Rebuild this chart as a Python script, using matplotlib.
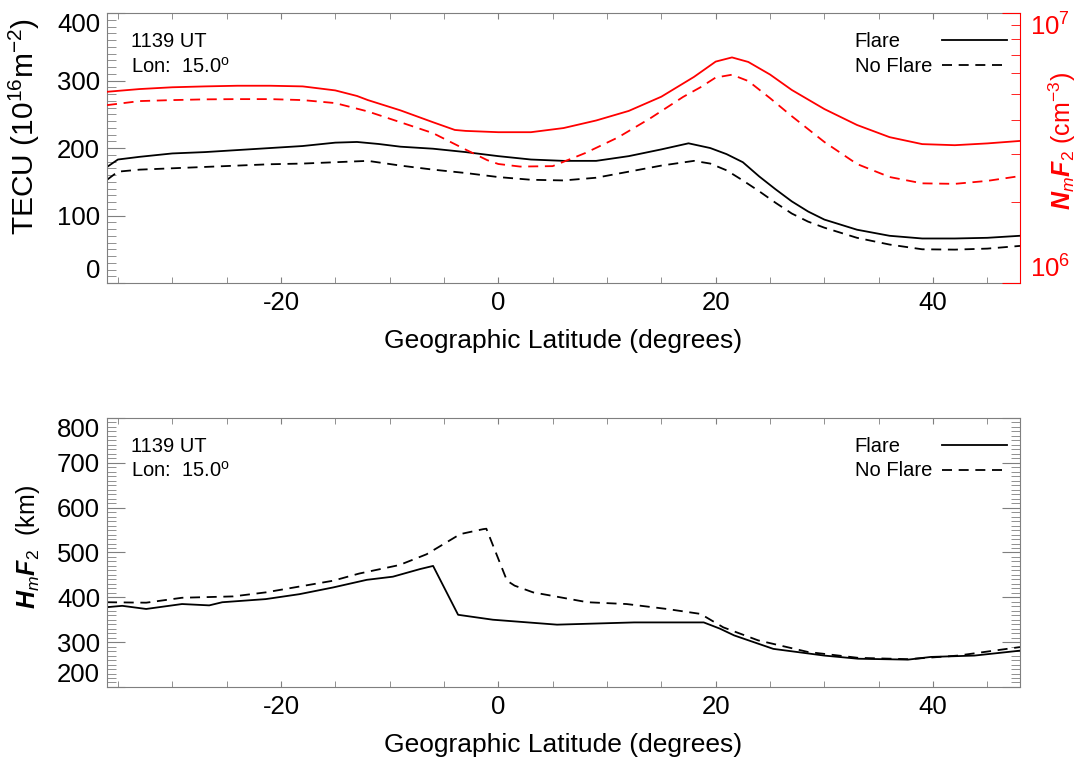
# Flare vs no-flare TEC / NmF2 / HmF2 along 15 deg longitude at 1139 UT

import matplotlib
matplotlib.use("Agg")
import matplotlib.pyplot as plt
import matplotlib.ticker as mtick
from matplotlib.lines import Line2D

plt.rcParams["font.family"] = ["Liberation Sans", "DejaVu Sans"]
plt.rcParams["mathtext.fontset"] = "custom"
plt.rcParams["mathtext.rm"] = "Liberation Sans"
plt.rcParams["mathtext.it"] = "Liberation Sans:italic"
plt.rcParams["mathtext.bf"] = "Liberation Sans:bold"
plt.rcParams["mathtext.bfit"] = "Liberation Sans:bold:italic"
plt.rcParams["lines.scale_dashes"] = False
plt.rcParams["axes.unicode_minus"] = False

# ---- data ----
# TEC (TECU)
tec_lat = [-36, -35, -33, -30, -27, -24, -21, -18, -15, -13, -11, -9, -6, -3, 0, 3, 6, 9,
           12, 15, 17.5, 19.5, 21, 22.5, 24, 25.5, 27, 28.5, 30, 33, 36, 39, 42, 45, 48]
tec_flare = [172, 183, 187, 192, 194, 197, 200, 203, 208, 209, 206, 202, 199, 194, 188, 183,
             181, 181, 188, 198, 207, 200, 191, 179, 158, 139, 121, 106, 94, 79, 70, 66, 66,
             67, 70]

tec_lat_nf = [-36, -35, -33, -30, -27, -24, -21, -18, -15, -12, -9, -6, -3, 0, 3, 6, 9, 12,
              15, 18, 19.5, 21, 22.5, 24, 25.5, 27, 28.5, 30, 33, 36, 39, 42, 45, 48]
tec_noflare = [153, 165, 168, 170, 172, 174, 176, 177, 179, 181, 174, 168, 163, 157, 153,
               152, 156, 165, 174, 181, 177, 167, 152, 136, 119, 103, 91, 82, 67, 57, 50,
               49.5, 51, 55]

# NmF2 (cm^-3)
nm_lat = [-36, -33, -30, -27, -24, -21, -18, -15, -13, -12, -9, -6, -4, -3, 0, 3, 6, 9, 12,
          15, 18, 20, 21.5, 23, 25, 27, 30, 33, 36, 39, 42, 45, 48]
nm_flare = [5.11e6, 5.23e6, 5.31e6, 5.35e6, 5.38e6, 5.38e6, 5.35e6, 5.17e6, 4.93e6, 4.76e6,
            4.36e6, 3.94e6, 3.69e6, 3.66e6, 3.62e6, 3.62e6, 3.75e6, 4.00e6, 4.34e6, 4.90e6,
            5.80e6, 6.61e6, 6.85e6, 6.59e6, 5.92e6, 5.19e6, 4.41e6, 3.85e6, 3.47e6, 3.27e6,
            3.24e6, 3.29e6, 3.36e6]

nm_lat_nf = [-36, -33, -30, -27, -24, -21, -18, -15, -12, -9, -6, -3, -1, 0, 2, 5, 8, 11,
             14, 17, 18.6, 20, 21.5, 23, 25, 27, 30, 33, 36, 39, 42, 45, 48]
nm_noflare = [4.56e6, 4.72e6, 4.76e6, 4.79e6, 4.80e6, 4.80e6, 4.76e6, 4.64e6, 4.32e6, 3.94e6,
              3.59e6, 3.12e6, 2.85e6, 2.76e6, 2.70e6, 2.71e6, 3.03e6, 3.46e6, 4.08e6, 4.89e6,
              5.31e6, 5.77e6, 5.91e6, 5.60e6, 4.84e6, 4.15e6, 3.33e6, 2.76e6, 2.47e6, 2.34e6,
              2.33e6, 2.39e6, 2.49e6]

# HmF2 (km)
hm_lat = [-36, -34.6, -32.4, -29.1, -26.6, -25.4, -21.4, -18.3, -15.2, -12.1, -9.7, -7.2,
          -6.0, -3.7, -0.5, 5.4, 12.5, 18.9, 20.4, 21.7, 25.3, 30.0, 33.1, 37.7, 39.8, 43.8,
          48]
hm_flare = [378, 381, 374, 385, 382, 389, 396, 407, 422, 439, 446, 463, 470, 361, 350, 339,
            344, 344, 330, 315, 285, 270, 263, 261, 267, 270, 281]

hm_lat_nf = [-36, -32.4, -29.1, -24.4, -21.4, -15.2, -12.8, -9.1, -6.6, -3.5, -1.4, -1.1,
             0.8, 1.5, 3.2, 8.2, 11.8, 15.5, 18.6, 20.7, 23.9, 28.5, 33.1, 37.7, 42.3, 48]
hm_noflare = [389, 388, 399, 402, 411, 437, 453, 472, 496, 541, 552, 553, 437, 426, 411,
              389, 385, 374, 363, 333, 304, 278, 265, 262, 270, 289]

ut_text = "1139 UT"
lon_text = r"Lon:  15.0$^{\rm o}$"
series_names = ["Flare", "No Flare"]

LW = 1.3
DASH = (7.2, 4.8)
AXCOL = "#7f7f7f"
TICKFS = 18.5


def style_axis(ax, ymajor, yminor):
    for s in ax.spines.values():
        s.set_color(AXCOL)
    ax.set_xlim(-36, 48)
    ax.xaxis.set_major_locator(mtick.MultipleLocator(20))
    ax.xaxis.set_minor_locator(mtick.MultipleLocator(5))
    ax.yaxis.set_major_locator(mtick.MultipleLocator(ymajor))
    ax.yaxis.set_minor_locator(mtick.MultipleLocator(yminor))
    ax.tick_params(axis="x", which="both", direction="in", top=True, length=4.5,
                   color=AXCOL, labelsize=TICKFS, pad=6)
    ax.tick_params(axis="y", which="major", direction="in", length=13, color=AXCOL,
                   labelsize=TICKFS, pad=5)
    ax.tick_params(axis="y", which="minor", direction="in", length=6.5, color=AXCOL)
    ax.set_xlabel("Geographic Latitude (degrees)", fontsize=19, labelpad=10)


def add_key(ax):
    ax.text(0.0263, 0.893, ut_text, transform=ax.transAxes, fontsize=14.5, va="center")
    ax.text(0.0263, 0.803, lon_text, transform=ax.transAxes, fontsize=14.5, va="center")
    ax.text(0.819, 0.893, series_names[0], transform=ax.transAxes, fontsize=14.5,
            va="center")
    ax.text(0.819, 0.803, series_names[1], transform=ax.transAxes, fontsize=14.5,
            va="center")
    ax.add_line(Line2D([0.9146, 0.9855], [0.901, 0.901], transform=ax.transAxes,
                       color="black", lw=LW))
    ax.add_line(Line2D([0.9146, 0.9855], [0.806, 0.806], transform=ax.transAxes,
                       color="black", lw=LW, dashes=DASH))


def nudge_end_labels(labels):
    labels[0].set_va("bottom")
    labels[-1].set_va("top")


fig = plt.figure(figsize=(10.78, 7.59), dpi=100)

# ---- top panel: TEC + NmF2 ----
ax1 = fig.add_axes([0.0993, 0.6271, 0.8469, 0.3557])
ax1.plot(tec_lat, tec_flare, color="black", lw=LW)
ax1.plot(tec_lat_nf, tec_noflare, color="black", lw=LW, dashes=DASH)
ax1.set_ylim(0, 400)
style_axis(ax1, 100, 10)
ax1.tick_params(axis="y", which="both", right=False)
ax1.spines["right"].set_visible(False)
ax1.set_yticks([0, 100, 200, 300, 400])
nudge_end_labels(ax1.get_yticklabels())
ax1.set_ylabel(r"TECU (10$^{16}$m$^{-2}$)", fontsize=21.5)
ax1.yaxis.set_label_coords(-0.071, 0.58)

ax2 = ax1.twinx()
ax2.plot(nm_lat, nm_flare, color="red", lw=LW)
ax2.plot(nm_lat_nf, nm_noflare, color="red", lw=LW, dashes=DASH)
ax2.set_yscale("log")
ax2.set_ylim(1e6, 1e7)
ax2.set_xlim(-36, 48)
ax2.set_yticks([1e6, 1e7])
ax2.yaxis.set_minor_locator(mtick.LogLocator(subs=range(2, 10)))
ax2.yaxis.set_minor_formatter(mtick.NullFormatter())
for name, s in ax2.spines.items():
    s.set_visible(name == "right")
ax2.spines["right"].set_color("red")
ax2.tick_params(axis="y", which="major", direction="in", length=13, color="red",
                labelcolor="red", labelsize=TICKFS, pad=7)
ax2.tick_params(axis="y", which="minor", direction="in", length=6.5, color="red")
nudge_end_labels(ax2.get_yticklabels())
ax2.set_ylabel(r"$\mathbfit{N}_{\mathit{m}}\mathbfit{F}_{\mathrm{2}}$ (cm$^{-3}$)",
               fontsize=18, color="red", rotation=90)
ax2.yaxis.set_label_coords(1.029, 0.526)
add_key(ax1)

# ---- bottom panel: HmF2 ----
ax3 = fig.add_axes([0.0993, 0.0949, 0.8469, 0.3544])
ax3.plot(hm_lat, hm_flare, color="black", lw=LW)
ax3.plot(hm_lat_nf, hm_noflare, color="black", lw=LW, dashes=DASH)
ax3.set_ylim(200, 800)
style_axis(ax3, 100, 10)
ax3.tick_params(axis="y", which="both", right=True)
ax3.set_yticks([200, 300, 400, 500, 600, 700, 800])
nudge_end_labels(ax3.get_yticklabels())
ax3.set_ylabel(r"$\mathbfit{H}_{\mathit{m}}\mathbfit{F}_{\mathrm{2}}$  (km)", fontsize=18)
ax3.yaxis.set_label_coords(-0.071, 0.519)
add_key(ax3)

fig.savefig("out.png", dpi=100)
plt.close(fig)
